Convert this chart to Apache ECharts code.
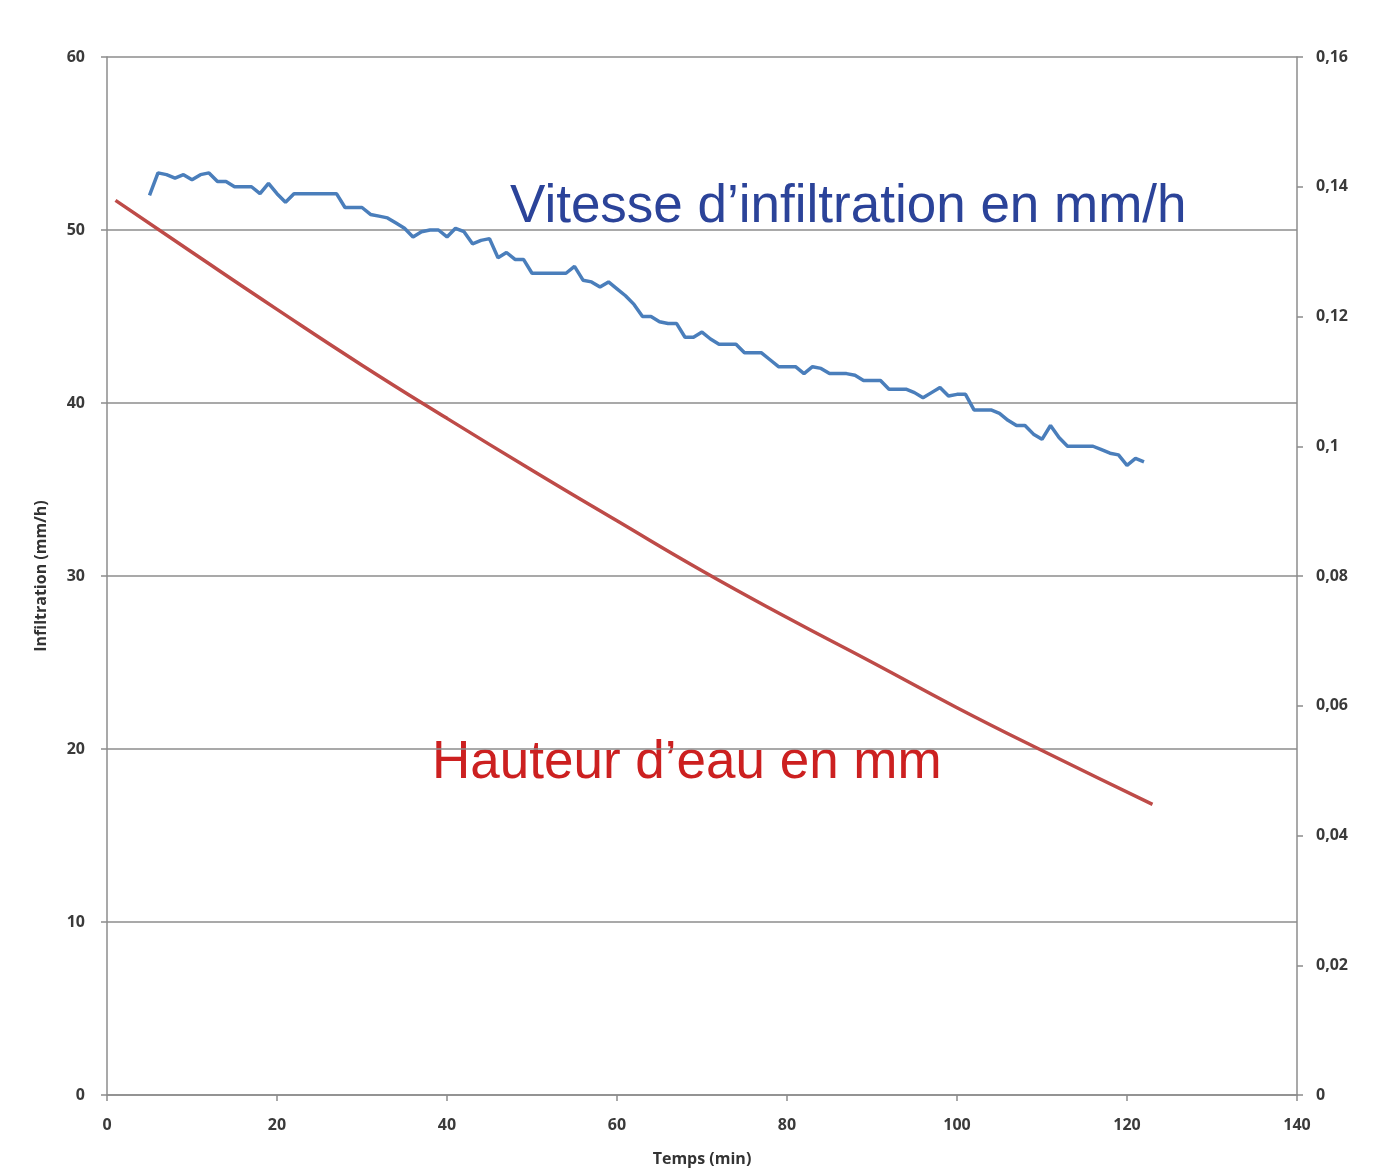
<!DOCTYPE html>
<html>
<head>
<meta charset="utf-8">
<script src="https://cdn.jsdelivr.net/npm/echarts@6/dist/echarts.min.js"></script>
<style>
html,body{margin:0;padding:0;background:#fff;}
#c{width:1374px;height:1172px;}
</style>
</head>
<body>
<div id="c"></div>
<script>
// Vitesse d'infiltration (mm/h), one reading per minute from t = 5 to t = 122
const infilStart = 5;
const infiltration = [
 52.0,53.3,53.2,53.0,53.2,52.9,53.2,53.3,52.8,52.8,
 52.5,52.5,52.5,52.1,52.7,52.1,51.6,52.1,52.1,52.1,
 52.1,52.1,52.1,51.3,51.3,51.3,50.9,50.8,50.7,50.4,
 50.1,49.6,49.9,50.0,50.0,49.6,50.1,49.9,49.2,49.4,
 49.5,48.4,48.7,48.3,48.3,47.5,47.5,47.5,47.5,47.5,
 47.9,47.1,47.0,46.7,47.0,46.6,46.2,45.7,45.0,45.0,
 44.7,44.6,44.6,43.8,43.8,44.1,43.7,43.4,43.4,43.4,
 42.9,42.9,42.9,42.5,42.1,42.1,42.1,41.7,42.1,42.0,
 41.7,41.7,41.7,41.6,41.3,41.3,41.3,40.8,40.8,40.8,
 40.6,40.3,40.6,40.9,40.4,40.5,40.5,39.6,39.6,39.6,
 39.4,39.0,38.7,38.7,38.2,37.9,38.7,38.0,37.5,37.5,
 37.5,37.5,37.3,37.1,37.0,36.4,36.8,36.6
];
// Hauteur d'eau (right axis)
const hauteurTimes = [1,10,20,30,40,50,60,70,80,90,100,110,123];
const hauteur = [0.1379,0.1299,0.1211,0.1125,0.1043,0.0963,0.0885,0.0808,0.0736,0.0667,0.0597,0.0531,0.0448];

const xTicks = {min:0, max:140, interval:20};
const yLeftTicks = {min:0, max:60, interval:10};
const yRightTicks = {min:0, max:0.16, interval:0.02};

const infilData = infiltration.map((v,i)=>[infilStart+i, v]);
const hauteurData = hauteurTimes.map((t,i)=>[t, hauteur[i]]);

const axisColor = '#8c8c8c';
const labelStyle = {color:'#3a3a3a', fontSize:16, fontFamily:'Open Sans', fontWeight:'bold'};

const chart = echarts.init(document.getElementById('c'));
chart.setOption({
  animation:false,
  backgroundColor:'#ffffff',
  grid:{left:107, right:77, top:57, bottom:71, containLabel:false},
  xAxis:{
    type:'value', min:xTicks.min, max:xTicks.max, interval:xTicks.interval,
    name:'Temps (min)', nameLocation:'middle', nameGap:56,
    nameTextStyle:{color:'#333', fontSize:16, fontFamily:'Open Sans', fontWeight:'bold'},
    axisLine:{show:true, onZero:false, lineStyle:{color:axisColor, width:1.5}},
    axisTick:{show:true, length:6, lineStyle:{color:axisColor, width:1.5}},
    axisLabel:Object.assign({margin:22}, labelStyle),
    splitLine:{show:false}
  },
  yAxis:[{
    type:'value', min:yLeftTicks.min, max:yLeftTicks.max, interval:yLeftTicks.interval,
    name:'Infiltration (mm/h)', nameLocation:'middle', nameGap:58, nameRotate:90,
    nameTextStyle:{color:'#333', fontSize:16, fontFamily:'Open Sans', fontWeight:'bold'},
    axisLine:{show:true, lineStyle:{color:axisColor, width:1.5}},
    axisTick:{show:true, length:6, lineStyle:{color:axisColor, width:1.5}},
    axisLabel:Object.assign({margin:22}, labelStyle),
    splitLine:{show:true, lineStyle:{color:axisColor, width:1.5}}
  },{
    type:'value', min:yRightTicks.min, max:yRightTicks.max, interval:yRightTicks.interval,
    position:'right',
    axisLine:{show:true, lineStyle:{color:axisColor, width:1.5}},
    axisTick:{show:true, length:6, lineStyle:{color:axisColor, width:1.5}},
    axisLabel:Object.assign({margin:19, formatter:v=>String(+v.toFixed(2)).replace('.',',')}, labelStyle),
    splitLine:{show:false}
  }],
  series:[{
    name:'Vitesse d\u2019infiltration', type:'line', yAxisIndex:0,
    data:infilData, showSymbol:false, symbol:'none',
    lineStyle:{color:'#4a7ebb', width:3.5}
  },{
    name:'Hauteur d\u2019eau', type:'line', yAxisIndex:1,
    data:hauteurData, showSymbol:false, symbol:'none', smooth:true,
    lineStyle:{color:'#be4b48', width:3.5}
  }],
  graphic:[{
    type:'text', left:510, top:181,
    style:{text:'Vitesse d\u2019infiltration en mm/h', fill:'#2b4399', font:'53px "Liberation Sans", Arial, sans-serif'}
  },{
    type:'text', left:432, top:737,
    style:{text:'Hauteur d\u2019eau en mm', fill:'#cc2020', font:'53px "Liberation Sans", Arial, sans-serif'}
  }]
});
</script>
</body>
</html>
